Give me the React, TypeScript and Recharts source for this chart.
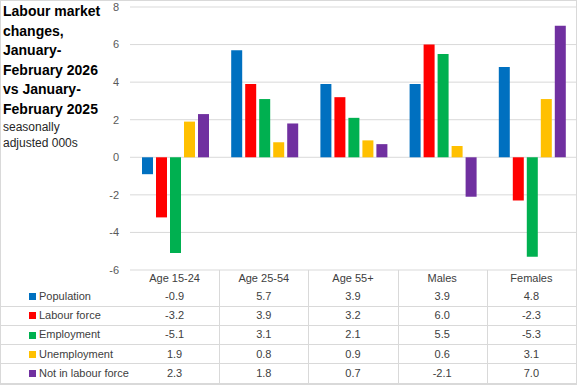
// Labour market changes — clustered bars with a data table underneath
import { BarChart, Bar, XAxis, YAxis, CartesianGrid } from "recharts"

const categories = ["Age 15-24", "Age 25-54", "Age 55+", "Males", "Females"]

const population = [-0.9, 5.7, 3.9, 3.9, 4.8]
const labourForce = [-3.2, 3.9, 3.2, 6.0, -2.3]
const employment = [-5.1, 3.1, 2.1, 5.5, -5.3]
const unemployment = [1.9, 0.8, 0.9, 0.6, 3.1]
const notInLabourForce = [2.3, 1.8, 0.7, -2.1, 7.0]

const yTicks = [-6, -4, -2, 0, 2, 4, 6, 8]

const titleLines = ["Labour market", "changes,", "January-", "February 2026", "vs January-", "February 2025"]
const subtitleLines = ["seasonally", "adjusted 000s"]

const series = [
  { key: "population", name: "Population", color: "#0070C0", values: population },
  { key: "labourForce", name: "Labour force", color: "#FF0000", values: labourForce },
  { key: "employment", name: "Employment", color: "#00B050", values: employment },
  { key: "unemployment", name: "Unemployment", color: "#FFC000", values: unemployment },
  { key: "notInLabourForce", name: "Not in labour force", color: "#7030A0", values: notInLabourForce },
]

const data = categories.map((c, i) => {
  const row: Record<string, string | number> = { category: c }
  series.forEach((s) => {
    row[s.key] = s.values[i]
  })
  return row
})

const W = 577
const H = 385
const PLOT_LEFT = 130
const PLOT_RIGHT = 576
const COL_W = (PLOT_RIGHT - PLOT_LEFT) / categories.length
const TABLE_TOP = 269.5
const HEADER_H = 17.5
const ROW_H = 19.2
const GRID = "#d9d9d9"
const FONT = "'Liberation Sans', Arial, sans-serif"

function DataTable() {
  const bottom = TABLE_TOP + HEADER_H + ROW_H * series.length
  return (
    <div style={{ position: "absolute", left: 0, top: 0, width: W, height: H, fontFamily: FONT, fontSize: 11, color: "#404040" }}>
      {categories.map((c, i) => (
        <div
          key={c}
          style={{
            position: "absolute",
            left: PLOT_LEFT + i * COL_W,
            top: TABLE_TOP,
            width: COL_W,
            height: HEADER_H,
            lineHeight: `${HEADER_H}px`,
            textAlign: "center",
          }}
        >
          {c}
        </div>
      ))}
      {categories.slice(1).map((c, i) => (
        <div
          key={"v" + c}
          style={{
            position: "absolute",
            left: PLOT_LEFT + (i + 1) * COL_W,
            top: TABLE_TOP,
            width: 1,
            height: bottom - TABLE_TOP,
            background: GRID,
          }}
        />
      ))}
      {series.map((s, r) => {
        const top = TABLE_TOP + HEADER_H + r * ROW_H
        return (
          <div key={s.key}>
            <div style={{ position: "absolute", left: 0, top: top + ROW_H - 0.5, width: PLOT_RIGHT, height: 1, background: GRID }} />
            <div style={{ position: "absolute", left: 29, top: top + ROW_H / 2 - 3.5, width: 7, height: 7, background: s.color }} />
            <div style={{ position: "absolute", left: 39, top, height: ROW_H, lineHeight: `${ROW_H}px`, whiteSpace: "nowrap" }}>
              {s.name}
            </div>
            {s.values.map((v, i) => (
              <div
                key={i}
                style={{
                  position: "absolute",
                  left: PLOT_LEFT + i * COL_W,
                  top,
                  width: COL_W,
                  height: ROW_H,
                  lineHeight: `${ROW_H}px`,
                  textAlign: "center",
                }}
              >
                {v.toFixed(1)}
              </div>
            ))}
          </div>
        )
      })}
    </div>
  )
}

export default function App() {
  return (
    <div style={{ position: "relative", width: W, height: H, background: "#fff", overflow: "hidden" }}>
      <style>{"body{margin:0}"}</style>
      <BarChart
        width={W}
        height={290}
        data={data}
        margin={{ top: 7, right: W - PLOT_RIGHT, bottom: 20, left: 0 }}
        barCategoryGap={12}
        barGap={3}
        style={{ position: "absolute", left: 0, top: 0 }}
      >
        <CartesianGrid vertical={false} stroke={GRID} />
        <XAxis dataKey="category" hide />
        <YAxis
          width={PLOT_LEFT}
          domain={[-6, 8]}
          ticks={yTicks}
          interval={0}
          axisLine={false}
          tickLine={false}
          tickMargin={5}
          tick={{ fontSize: 11, fill: "#595959", fontFamily: FONT }}
        />
        {series.map((s) => (
          <Bar key={s.key} dataKey={s.key} name={s.name} fill={s.color} isAnimationActive={false} />
        ))}
      </BarChart>
      <DataTable />
      <div style={{ position: "absolute", left: 3, top: 2, fontFamily: FONT, fontWeight: 700, fontSize: 14, lineHeight: "19.5px", color: "#000", whiteSpace: "nowrap" }}>
        {titleLines.map((t) => (
          <div key={t}>{t}</div>
        ))}
      </div>
      <div style={{ position: "absolute", left: 3, top: 119, fontFamily: FONT, fontSize: 12, lineHeight: "16px", color: "#262626", whiteSpace: "nowrap" }}>
        {subtitleLines.map((t) => (
          <div key={t}>{t}</div>
        ))}
      </div>
      <div style={{ position: "absolute", left: 0, top: 0, width: W, height: H, boxSizing: "border-box", border: `1px solid ${GRID}`, pointerEvents: "none" }} />
    </div>
  )
}
